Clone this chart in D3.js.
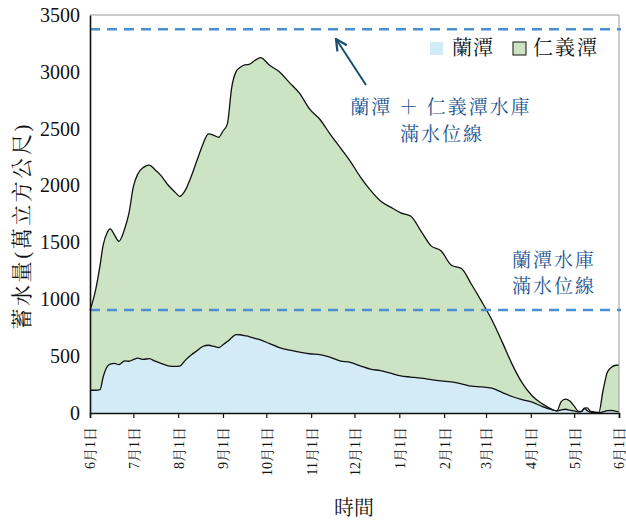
<!DOCTYPE html>
<html>
<head>
<meta charset="utf-8">
<script src="https://cdn.jsdelivr.net/npm/d3@7"></script>
<style>
  body { margin: 0; background: #fff; }
  svg { display: block; }
</style>
</head>
<body>
<svg width="626" height="521"></svg>
<script>
const startDate = new Date(2015, 5, 1);
const endDate = new Date(2016, 5, 1);

// days after 6月1日
const days = [0, 4, 7, 9, 12, 14, 17, 20, 24, 27, 30, 33, 37, 41, 45, 49, 54, 59, 62, 66,
  70, 74, 78, 82, 86, 89, 92, 95, 98, 101, 104, 107, 110, 114, 118, 124, 131, 138, 145, 152,
  159, 166, 173, 180, 187, 194, 201, 208, 215, 222, 229, 236, 243, 250, 257, 264, 271, 278, 285, 292,
  299, 306, 313, 320, 323, 326, 329, 332, 335, 338, 340, 342, 344, 346, 349, 352, 355, 358, 361, 364, 366];

const lantan = [200, 200, 205, 312, 410, 430, 437, 425, 458, 455, 470, 482, 472, 478, 456, 437, 415, 410, 412, 465,
  510, 548, 585, 596, 585, 575, 600, 628, 662, 690, 688, 680, 672, 657, 643, 612, 575, 552, 536, 521,
  514, 492, 458, 445, 415, 386, 372, 350, 326, 316, 306, 294, 282, 273, 257, 236, 230, 218, 182, 145,
  118, 95, 57, 28, 18, 28, 33, 25, 18, 10, 12, 38, 20, 8, 5, 3, 10, 20, 22, 15, 12];

const renyitan = [702, 890, 1098, 1158, 1180, 1190, 1127, 1085, 1162, 1305, 1520, 1618, 1688, 1702, 1684, 1653, 1590, 1530, 1493, 1495,
  1570, 1672, 1775, 1859, 1855, 1850, 1880, 1912, 2198, 2310, 2352, 2381, 2394, 2443, 2483, 2448, 2425, 2353, 2274, 2151,
  2069, 1963, 1877, 1770, 1662, 1574, 1493, 1460, 1434, 1414, 1294, 1176, 1143, 1027, 1013, 894, 750, 602, 448, 285,
  147, 55, 23, 2, 0, 72, 89, 80, 42, 5, 2, 4, 25, 10, 3, 2, 190, 340, 383, 405, 409];

const seriesNames = ['蘭潭', '仁義潭'];
const seriesColors = ['#d3eaf7', '#cde4c4'];
const monthLabels = ['6月1日', '7月1日', '8月1日', '9月1日', '10月1日', '11月1日', '12月1日',
  '1月1日', '2月1日', '3月1日', '4月1日', '5月1日', '6月1日'];
const yTicks = [0, 500, 1000, 1500, 2000, 2500, 3000, 3500];

const fullLevelBoth = 3375;
const fullLevelLantan = 905;

const FONT = '"Liberation Serif", "Noto Serif CJK TC", serif';

const svg = d3.select('svg');

const x = d3.scaleTime().domain([startDate, endDate]).range([90, 619]);
const y = d3.scaleLinear().domain([0, 3500]).range([413, 15]);

const table = days.map((d, i) => ({
  date: d3.timeDay.offset(startDate, d),
  '蘭潭': lantan[i],
  '仁義潭': renyitan[i]
}));

const stacked = d3.stack().keys(seriesNames)(table);

const area = d3.area()
  .curve(d3.curveMonotoneX)
  .x(d => x(d.data.date))
  .y0(d => y(d[0]))
  .y1(d => y(d[1]));

const topLine = d3.line()
  .curve(d3.curveMonotoneX)
  .x(d => x(d.data.date))
  .y(d => y(d[1]));

svg.append('g')
  .selectAll('path')
  .data(stacked)
  .enter()
  .append('path')
  .attr('fill', (d, i) => seriesColors[i])
  .attr('d', area);

svg.append('g')
  .selectAll('path')
  .data(stacked)
  .enter()
  .append('path')
  .attr('fill', 'none')
  .attr('stroke', '#111')
  .attr('stroke-width', 1.3)
  .attr('d', topLine);

// plot frame (top / right)
svg.append('path')
  .attr('d', `M${x.range()[0]},${y(3500)}H${x.range()[1]}V${y(0)}`)
  .attr('fill', 'none')
  .attr('stroke', '#9a9a9a')
  .attr('stroke-width', 1);

// full level lines
[fullLevelBoth, fullLevelLantan].forEach(v => {
  svg.append('line')
    .attr('x1', x.range()[0])
    .attr('x2', x.range()[1] + 2)
    .attr('y1', y(v))
    .attr('y2', y(v))
    .attr('stroke', '#4a8fd2')
    .attr('stroke-width', 2.5)
    .attr('stroke-dasharray', '10,7');
});

// y axis
const yAxis = svg.append('g')
  .attr('transform', `translate(${x.range()[0]},0)`)
  .call(d3.axisLeft(y).tickValues(yTicks).tickFormat(d3.format('d')).tickSize(0).tickPadding(10));
yAxis.select('.domain').attr('stroke', '#111').attr('stroke-width', 1.6);
yAxis.selectAll('text')
  .attr('font-size', 20)
  .style('font-family', FONT)
  .attr('fill', '#111');

// x axis
const xAxis = svg.append('g')
  .attr('transform', `translate(0,${y(0)})`)
  .call(
    d3.axisBottom(x)
      .ticks(d3.timeMonth.every(1))
      .tickSize(5)
      .tickFormat((d, i) => monthLabels[i])
  );
xAxis.select('.domain').attr('stroke', '#111').attr('stroke-width', 1.6);
xAxis.selectAll('.tick line').attr('stroke', '#111').attr('stroke-width', 1.2);
xAxis.selectAll('text')
  .attr('font-size', 14)
  .style('font-family', FONT)
  .attr('fill', '#111')
  .attr('text-anchor', 'end')
  .attr('transform', 'rotate(-90)')
  .attr('x', -14)
  .attr('y', 0)
  .attr('dy', '0.35em');

// axis titles
svg.append('text')
  .attr('transform', 'translate(29,227) rotate(-90)')
  .attr('text-anchor', 'middle')
  .attr('font-size', 21)
  .attr('textLength', 205)
  .attr('lengthAdjust', 'spacing')
  .style('font-family', FONT)
  .attr('fill', '#111')
  .text('蓄水量(萬立方公尺)');

svg.append('text')
  .attr('x', 354)
  .attr('y', 515)
  .attr('text-anchor', 'middle')
  .attr('font-size', 20)
  .style('font-family', FONT)
  .attr('fill', '#111')
  .text('時間');

// legend
const legend = svg.append('g').attr('transform', 'translate(430,42)');
legend.append('rect')
  .attr('width', 13).attr('height', 13)
  .attr('fill', seriesColors[0]);
legend.append('text')
  .attr('x', 22).attr('y', 13)
  .attr('font-size', 20)
  .attr('letter-spacing', 1)
  .style('font-family', FONT)
  .attr('fill', '#111')
  .text(seriesNames[0]);
legend.append('rect')
  .attr('x', 83).attr('width', 13).attr('height', 13)
  .attr('fill', seriesColors[1])
  .attr('stroke', '#111')
  .attr('stroke-width', 1);
legend.append('text')
  .attr('x', 103).attr('y', 13)
  .attr('font-size', 20)
  .attr('letter-spacing', 2)
  .style('font-family', FONT)
  .attr('fill', '#111')
  .text(seriesNames[1]);

// annotations
const noteColor = '#245592';

svg.append('defs')
  .append('marker')
  .attr('id', 'arrow')
  .attr('viewBox', '0 0 10 10')
  .attr('refX', 9)
  .attr('refY', 5)
  .attr('markerWidth', 7)
  .attr('markerHeight', 7)
  .attr('orient', 'auto')
  .append('path')
  .attr('d', 'M1,1L9,5L1,9')
  .attr('fill', 'none')
  .attr('stroke', '#1b4f72')
  .attr('stroke-width', 1.6);

svg.append('line')
  .attr('x1', 366)
  .attr('y1', 85)
  .attr('x2', 336)
  .attr('y2', 39)
  .attr('stroke', '#1b4f72')
  .attr('stroke-width', 2)
  .attr('marker-end', 'url(#arrow)');

const noteLines = [
  { text: '蘭潭 ＋ 仁義潭水庫', x: 441, y: 114 },
  { text: '滿水位線', x: 442, y: 141 },
  { text: '蘭潭水庫', x: 554, y: 267 },
  { text: '滿水位線', x: 554, y: 293 }
];

svg.append('g')
  .selectAll('text')
  .data(noteLines)
  .enter()
  .append('text')
  .attr('x', d => d.x)
  .attr('y', d => d.y)
  .attr('text-anchor', 'middle')
  .attr('font-size', 19)
  .attr('letter-spacing', 2)
  .style('font-family', FONT)
  .style('fill', noteColor)
  .text(d => d.text);
</script>
</body>
</html>
